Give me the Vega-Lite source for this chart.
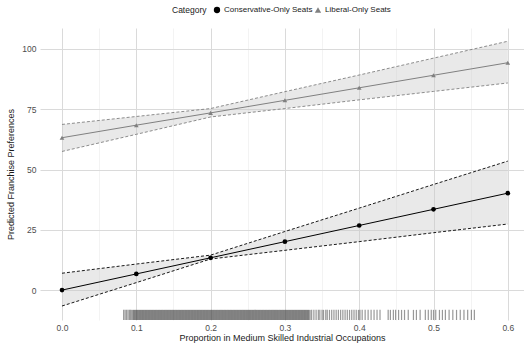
{
  "$schema": "https://vega.github.io/schema/vega-lite/v6.json",
  "width": 484,
  "height": 292,
  "autosize": {"type": "none"},
  "padding": {"left": 40, "top": 28, "right": 0, "bottom": 29},
  "background": "white",
  "config": {
    "font": "Liberation Sans",
    "view": {"stroke": null},
    "axis": {"labelFont": "Liberation Sans", "titleFont": "Liberation Sans", "labelColor": "#4d4d4d", "titleColor": "#1a1a1a", "labelFontSize": 8.5, "titleFontSize": 9, "titleFontWeight": "normal", "domain": false, "ticks": false}
  },
  "datasets": {
    "est": [
      {"x": 0.0, "cat": "Conservative-Only Seats", "est": 0.0, "lo": -6.6, "hi": 7.0},
      {"x": 0.1, "cat": "Conservative-Only Seats", "est": 6.7, "lo": 3.1, "hi": 10.8},
      {"x": 0.2, "cat": "Conservative-Only Seats", "est": 13.4, "lo": 12.9, "hi": 14.5},
      {"x": 0.3, "cat": "Conservative-Only Seats", "est": 20.1, "lo": 16.5, "hi": 24.3},
      {"x": 0.4, "cat": "Conservative-Only Seats", "est": 26.8, "lo": 20.1, "hi": 34.0},
      {"x": 0.5, "cat": "Conservative-Only Seats", "est": 33.5, "lo": 23.8, "hi": 43.8},
      {"x": 0.6, "cat": "Conservative-Only Seats", "est": 40.2, "lo": 27.4, "hi": 53.5},
      {"x": 0.0, "cat": "Liberal-Only Seats", "est": 63.2, "lo": 57.5, "hi": 68.7},
      {"x": 0.1, "cat": "Liberal-Only Seats", "est": 68.4, "lo": 64.6, "hi": 72.0},
      {"x": 0.2, "cat": "Liberal-Only Seats", "est": 73.5, "lo": 71.8, "hi": 75.3},
      {"x": 0.3, "cat": "Liberal-Only Seats", "est": 78.7, "lo": 75.3, "hi": 82.3},
      {"x": 0.4, "cat": "Liberal-Only Seats", "est": 83.9, "lo": 78.9, "hi": 89.2},
      {"x": 0.5, "cat": "Liberal-Only Seats", "est": 89.1, "lo": 82.4, "hi": 96.2},
      {"x": 0.6, "cat": "Liberal-Only Seats", "est": 94.3, "lo": 85.9, "hi": 103.2}
    ],
    "rugdense": [
      {"v":0.095},{"v":0.097},{"v":0.099},{"v":0.101},{"v":0.103},{"v":0.105},{"v":0.107},{"v":0.109},{"v":0.111},{"v":0.113},{"v":0.115},{"v":0.117},{"v":0.119},{"v":0.121},{"v":0.123},{"v":0.125},{"v":0.127},{"v":0.129},{"v":0.131},{"v":0.133},{"v":0.135},{"v":0.137},{"v":0.139},{"v":0.141},{"v":0.143},{"v":0.145},{"v":0.147},{"v":0.149},{"v":0.151},{"v":0.153},{"v":0.155},{"v":0.157},{"v":0.159},{"v":0.161},{"v":0.163},{"v":0.165},{"v":0.167},{"v":0.169},{"v":0.171},{"v":0.173},{"v":0.175},{"v":0.177},{"v":0.179},{"v":0.181},{"v":0.183},{"v":0.185},{"v":0.187},{"v":0.189},{"v":0.191},{"v":0.193},{"v":0.195},{"v":0.197},{"v":0.199},{"v":0.201},{"v":0.203},{"v":0.205},{"v":0.207},{"v":0.209},{"v":0.211},{"v":0.213},{"v":0.215},{"v":0.217},{"v":0.219},{"v":0.221},{"v":0.223},{"v":0.225},{"v":0.227},{"v":0.229},{"v":0.231},{"v":0.233},{"v":0.235},{"v":0.237},{"v":0.239},{"v":0.241},{"v":0.243},{"v":0.245},{"v":0.247},{"v":0.249},{"v":0.251},{"v":0.253},{"v":0.255},{"v":0.257},{"v":0.259},{"v":0.261},{"v":0.263},{"v":0.265},{"v":0.267},{"v":0.269},{"v":0.271},{"v":0.273},{"v":0.275},{"v":0.277},{"v":0.279},{"v":0.281},{"v":0.283},{"v":0.285},{"v":0.287},{"v":0.289},{"v":0.291},{"v":0.293},{"v":0.295},{"v":0.297},{"v":0.299},{"v":0.301},{"v":0.303},{"v":0.305},{"v":0.307},{"v":0.309},{"v":0.311},{"v":0.313},{"v":0.315},{"v":0.317},{"v":0.319},{"v":0.321},{"v":0.323},{"v":0.325},{"v":0.327},{"v":0.329},{"v":0.331},{"v":0.333}
    ],
    "rugsparse": [
      {"v":0.083},{"v":0.085},{"v":0.087},{"v":0.089},{"v":0.091},{"v":0.0925},
      {"v":0.336},{"v":0.339},{"v":0.342},{"v":0.345},{"v":0.347},{"v":0.350},{"v":0.352},{"v":0.355},{"v":0.357},{"v":0.360},{"v":0.363},{"v":0.366},{"v":0.369},{"v":0.372},{"v":0.375},{"v":0.378},{"v":0.381},{"v":0.384},{"v":0.387},{"v":0.390},{"v":0.393},{"v":0.396},{"v":0.399},
      {"v":0.401},{"v":0.404},{"v":0.408},{"v":0.412},{"v":0.416},{"v":0.420},{"v":0.424},{"v":0.428},{"v":0.439},{"v":0.442},{"v":0.446},{"v":0.449},{"v":0.453},{"v":0.457},{"v":0.461},{"v":0.466},{"v":0.473},{"v":0.477},{"v":0.482},{"v":0.489},{"v":0.493},{"v":0.497},{"v":0.500},{"v":0.503},{"v":0.508},{"v":0.512},{"v":0.516},{"v":0.521},{"v":0.526},{"v":0.531},{"v":0.536},{"v":0.541},{"v":0.546},{"v":0.551},{"v":0.555}
    ]
  },
  "layer": [
    {
      "data": {"name": "est"},
      "mark": {"type": "area", "fill": "#c8c8c8", "opacity": 0.4},
      "encoding": {
        "x": {"field": "x", "type": "quantitative", "scale": {"domain": [-0.0296, 0.6218], "nice": false, "zero": false},
          "axis": {"values": [0, 0.05, 0.1, 0.15, 0.2, 0.25, 0.3, 0.35, 0.4, 0.45, 0.5, 0.55, 0.6],
            "labelExpr": "round(datum.value*100) % 10 == 0 ? format(datum.value, '.1f') : ''",
            "grid": true,
            "gridColor": {"condition": {"test": "round(datum.value*100) % 10 != 0", "value": "#ebebeb"}, "value": "#dadada"},
            "gridWidth": {"condition": {"test": "round(datum.value*100) % 10 != 0", "value": 0.6}, "value": 1},
            "labelPadding": 3, "title": "Proportion in Medium Skilled Industrial Occupations", "titlePadding": 2}},
        "y": {"field": "lo", "type": "quantitative", "scale": {"domain": [-12.4, 108.7], "nice": false, "zero": false},
          "axis": {"values": [0, 12.5, 25, 37.5, 50, 62.5, 75, 87.5, 100],
            "labelExpr": "datum.value % 25 == 0 ? datum.value : ''",
            "grid": true,
            "gridColor": {"condition": {"test": "datum.value % 25 != 0", "value": "#ebebeb"}, "value": "#dadada"},
            "gridWidth": {"condition": {"test": "datum.value % 25 != 0", "value": 0.6}, "value": 1},
            "labelPadding": 4, "title": "Predicted Franchise Preferences", "titlePadding": 6}},
        "y2": {"field": "hi"},
        "detail": {"field": "cat"}
      }
    },
    {
      "data": {"name": "est"},
      "mark": {"type": "line", "strokeDash": [3, 2], "strokeWidth": 0.9},
      "encoding": {
        "x": {"field": "x", "type": "quantitative"},
        "y": {"field": "hi", "type": "quantitative"},
        "detail": {"field": "cat"},
        "color": {"condition": {"test": "datum.cat === 'Liberal-Only Seats'", "value": "#808080"}, "value": "#000000"}
      }
    },
    {
      "data": {"name": "est"},
      "mark": {"type": "line", "strokeDash": [3, 2], "strokeWidth": 0.9},
      "encoding": {
        "x": {"field": "x", "type": "quantitative"},
        "y": {"field": "lo", "type": "quantitative"},
        "detail": {"field": "cat"},
        "color": {"condition": {"test": "datum.cat === 'Liberal-Only Seats'", "value": "#808080"}, "value": "#000000"}
      }
    },
    {
      "data": {"name": "est"},
      "mark": {"type": "line", "strokeWidth": 1},
      "encoding": {
        "x": {"field": "x", "type": "quantitative"},
        "y": {"field": "est", "type": "quantitative"},
        "detail": {"field": "cat"},
        "color": {"condition": {"test": "datum.cat === 'Liberal-Only Seats'", "value": "#808080"}, "value": "#000000"}
      }
    },
    {
      "data": {"name": "est"},
      "mark": {"type": "point", "filled": true, "opacity": 1, "size": 22},
      "encoding": {
        "x": {"field": "x", "type": "quantitative"},
        "y": {"field": "est", "type": "quantitative"},
        "color": {"field": "cat", "type": "nominal", "scale": {"domain": ["Conservative-Only Seats", "Liberal-Only Seats"], "range": ["#000000", "#808080"]},
          "legend": {"title": "Category", "orient": "none", "legendX": 132, "legendY": -22, "direction": "horizontal", "titleOrient": "left", "titleFontSize": 8.5, "titleFontWeight": "normal", "titleColor": "#1a1a1a", "labelFontSize": 8, "labelColor": "#1a1a1a", "symbolSize": 40, "columnPadding": 1, "labelOffset": 3, "titlePadding": 6}},
        "shape": {"field": "cat", "type": "nominal", "scale": {"domain": ["Conservative-Only Seats", "Liberal-Only Seats"], "range": ["circle", "triangle-up"]},
          "legend": {"title": "Category", "orient": "none", "legendX": 132, "legendY": -22, "direction": "horizontal", "titleOrient": "left", "titleFontSize": 8.5, "titleFontWeight": "normal", "titleColor": "#1a1a1a", "labelFontSize": 8, "labelColor": "#1a1a1a", "symbolSize": 40, "columnPadding": 1, "labelOffset": 3, "titlePadding": 6}}
      }
    },
    {
      "data": {"name": "rugdense"},
      "mark": {"type": "rule", "color": "#333333", "opacity": 0.38, "strokeWidth": 3},
      "encoding": {
        "x": {"field": "v", "type": "quantitative"},
        "y": {"datum": -12.4},
        "y2": {"datum": -8.2}
      }
    },
    {
      "data": {"name": "rugsparse"},
      "mark": {"type": "rule", "color": "#444444", "opacity": 0.55, "strokeWidth": 1.2},
      "encoding": {
        "x": {"field": "v", "type": "quantitative"},
        "y": {"datum": -12.4},
        "y2": {"datum": -8.2}
      }
    }
  ]
}
